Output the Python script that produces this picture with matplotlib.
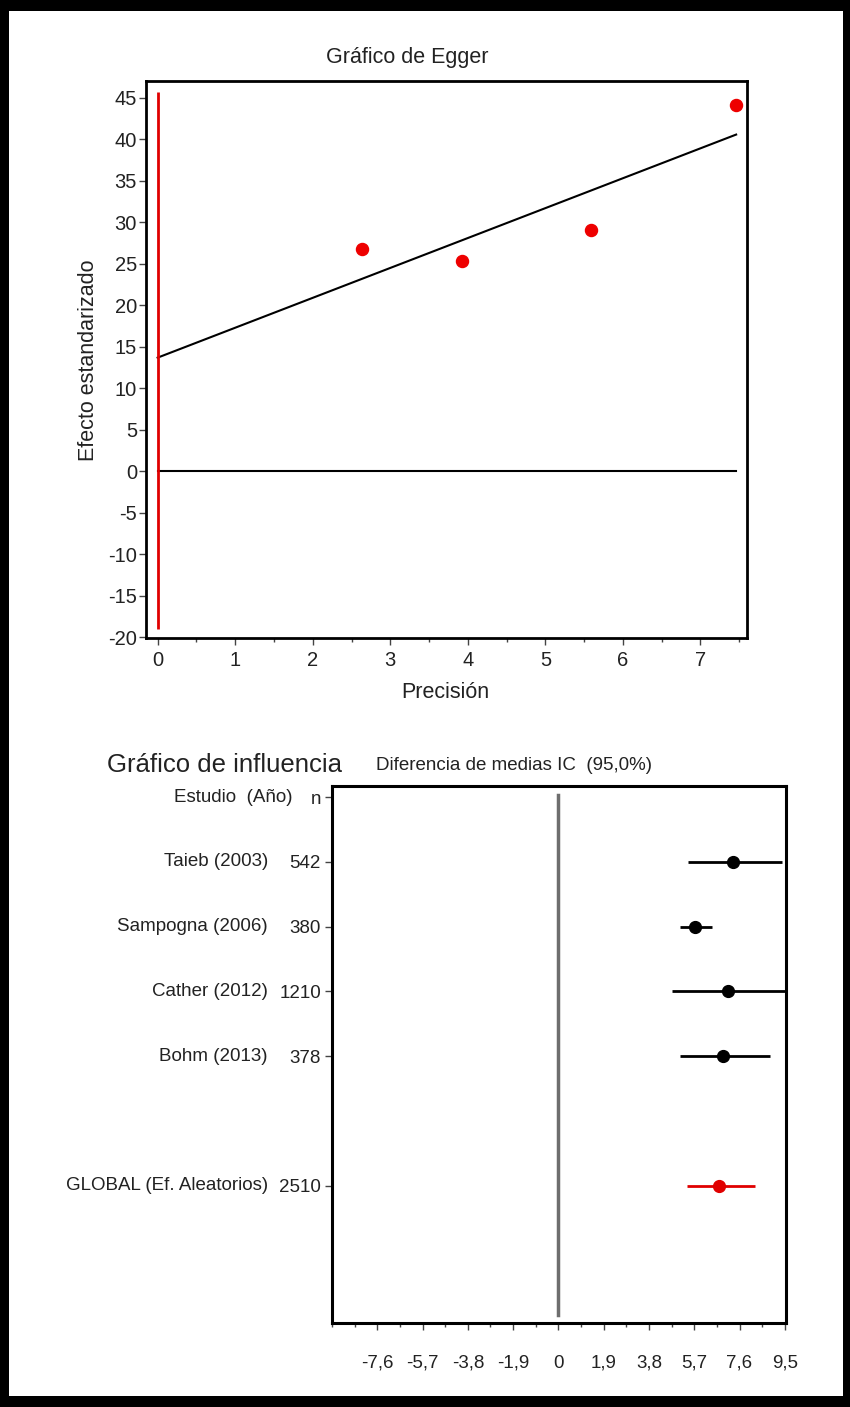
import matplotlib.pyplot as plt
import numpy as np
from matplotlib.patches import Rectangle
from matplotlib.ticker import MultipleLocator
from matplotlib.transforms import blended_transform_factory

plt.rcParams['font.family'] = ['Liberation Sans', 'DejaVu Sans']
plt.rcParams['axes.unicode_minus'] = False

# Egger plot data
precision = [2.63, 3.92, 5.59, 7.46]
std_effect = [26.8, 25.3, 29.1, 44.1]
red_line_span = (-19.0, 45.7)

# Influence plot data
studies = ["Taieb (2003)", "Sampogna (2006)", "Cather (2012)", "Bohm (2013)"]
n_sizes = [542, 380, 1210, 378]
means = [7.34, 5.74, 7.13, 6.92]
ci_low = [5.44, 5.10, 4.77, 5.10]
ci_high = [9.37, 6.46, 9.90, 8.86]
global_label = "GLOBAL (Ef. Aleatorios)"
global_n = 2510
global_mean = 6.75
global_ci = (5.40, 8.23)
x_ticks = [-7.6, -5.7, -3.8, -1.9, 0, 1.9, 3.8, 5.7, 7.6, 9.5]

W, H = 850, 1407
txt = '#222222'

fig = plt.figure(figsize=(W / 100, H / 100), dpi=100)
fig.patch.set_facecolor('black')
fig.patches.append(Rectangle((9 / W, 11 / H), (843 - 9) / W, (1396 - 11) / H,
                             transform=fig.transFigure, facecolor='white',
                             edgecolor='none', zorder=-1))

# ---- Egger plot ----
ax1 = fig.add_axes([146 / W, 1 - 638 / H, (747 - 146) / W, (638 - 81) / H])
ax1.set_xlim(-0.15, 7.6)
ax1.set_ylim(-20.1, 47)

slope, intercept = np.polyfit(precision, std_effect, 1)
x_fit = np.array([0, max(precision)])
ax1.plot(x_fit, intercept + slope * x_fit, color='black', lw=1.5)
ax1.plot(x_fit, [0, 0], color='black', lw=1.5)
ax1.vlines(0, red_line_span[0], red_line_span[1], color='#e00000', lw=2)
ax1.scatter(precision, std_effect, s=75, color='#ee0000', zorder=3)

ax1.set_xticks(range(8))
ax1.xaxis.set_minor_locator(MultipleLocator(0.5))
ax1.set_yticks(range(-20, 50, 5))
ax1.tick_params(which='both', direction='out', length=5, width=1, colors='#444444',
                labelcolor=txt, labelsize=14.5)
ax1.tick_params(axis='y', pad=1.5)
ax1.tick_params(axis='x', pad=4)
ax1.tick_params(which='minor', length=3)
for s in ax1.spines.values():
    s.set_linewidth(2)

fig.text(407 / W, 1 - 58 / H, "Gráfico de Egger", ha='center', va='center',
         fontsize=15.5, color=txt)
fig.text(88 / W, 1 - 360 / H, "Efecto estandarizado", ha='center', va='center',
         rotation=90, fontsize=15.5, color=txt)
fig.text(445 / W, 1 - 692 / H, "Precisión", ha='center', va='center',
         fontsize=15.5, color=txt)

# ---- Influence plot ----
ax2 = fig.add_axes([332 / W, 1 - 1323 / H, (786 - 332) / W, (1323 - 786) / H])
ax2.set_xlim(-9.5, 9.55)
ax2.set_ylim(8.12, -0.17)

rows = np.arange(1, len(studies) + 1)
global_row = len(studies) + 2

ax2.axvline(0, ymin=0.015, ymax=0.983, color='#6e6e6e', lw=2.5)
ax2.hlines(rows, ci_low, ci_high, color='black', lw=2)
ax2.plot(means, rows, 'o', color='black', ms=8.5)
ax2.hlines(global_row, global_ci[0], global_ci[1], color='#e00000', lw=2)
ax2.plot([global_mean], [global_row], 'o', color='#e00000', ms=8.5)

ax2.set_xticks(x_ticks)
ax2.set_xticklabels([f"{t:g}".replace('.', ',') for t in x_ticks])
ax2.xaxis.set_minor_locator(MultipleLocator(0.95))
ax2.set_yticks([0, *rows, global_row])
ax2.set_yticklabels(['n'] + [str(n) for n in n_sizes] + [str(global_n)])
ax2.tick_params(which='both', direction='out', length=5, width=1, colors='#444444',
                labelcolor=txt, labelsize=13.5)
ax2.tick_params(axis='x', pad=18)
ax2.tick_params(axis='y', pad=3)
ax2.tick_params(which='minor', length=3)
for s in ax2.spines.values():
    s.set_linewidth(2.2)

tr = blended_transform_factory(ax2.transAxes, ax2.transData)
ax2.text(-0.088, 0, "Estudio  (Año)", transform=tr, ha='right', va='center',
         fontsize=13.5, color=txt)
for r, name in zip(rows, studies):
    ax2.text(-0.141, r, name, transform=tr, ha='right', va='center',
             fontsize=13.5, color=txt)
ax2.text(-0.141, global_row, global_label, transform=tr, ha='right', va='center',
         fontsize=13.5, color=txt)

fig.text(107 / W, 1 - 765 / H, "Gráfico de influencia", ha='left', va='center',
         fontsize=18.5, color=txt)
fig.text(376 / W, 1 - 765 / H, "Diferencia de medias IC  (95,0%)", ha='left',
         va='center', fontsize=13.5, color=txt)

fig.savefig('out.png', dpi=100, facecolor=fig.get_facecolor())
